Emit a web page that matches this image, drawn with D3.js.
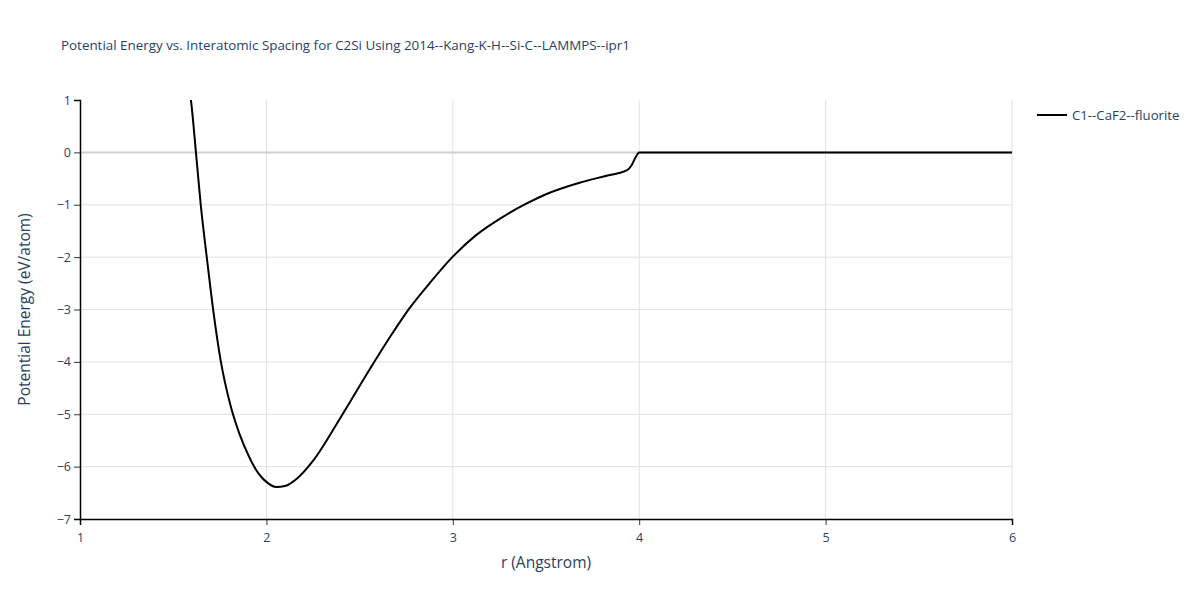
<!DOCTYPE html>
<html><head><meta charset="utf-8">
<script src="https://cdn.jsdelivr.net/npm/d3@7"></script>
<style>body{margin:0;background:#fff;} text{font-family:"Open Sans",Verdana,Arial,sans-serif;}</style>
</head><body><svg id="c" width="1200" height="600"></svg>
<script>
const titleText = "Potential Energy vs. Interatomic Spacing for C2Si Using 2014--Kang-K-H--Si-C--LAMMPS--ipr1";
const seriesName = "C1--CaF2--fluorite";
const xLabel = "r (Angstrom)";
const yLabel = "Potential Energy (eV/atom)";
const xTicks = [1, 2, 3, 4, 5, 6];
const yTicks = [1, 0, -1, -2, -3, -4, -5, -6, -7];
const rValues = [1.57, 1.595, 1.622, 1.648, 1.68, 1.715, 1.756, 1.805, 1.855, 1.903, 1.957, 2.01, 2.052, 2.10, 2.163, 2.252, 2.395, 2.552, 2.677, 2.767, 2.875, 3.0, 3.125, 3.269, 3.394, 3.50, 3.68, 3.82, 3.935, 3.96, 3.98, 4.0, 4.5, 5.0, 5.5, 6.0];
const eValues = [1.45, 1.0, 0.0, -1.01, -2.0, -3.02, -4.0, -4.8, -5.37, -5.78, -6.13, -6.32, -6.39, -6.37, -6.23, -5.88, -5.08, -4.155, -3.45, -2.98, -2.50, -1.99, -1.58, -1.23, -0.98, -0.80, -0.58, -0.45, -0.34, -0.24, -0.10, 0.0, 0.0, 0.0, 0.0, 0.0];

const svg = d3.select("#c");
const L = 80, R = 1012, T = 100, B = 519;
const x = d3.scaleLinear().domain([1, 6]).range([L, R]);
const y = d3.scaleLinear().domain([-7, 1]).range([B, T]);
const fc = "#2a3f5f";

// grid
const g = svg.append("g");
g.selectAll(".vg").data(xTicks.slice(1)).enter().append("line")
  .attr("x1", d => x(d)).attr("x2", d => x(d)).attr("y1", T).attr("y2", B)
  .attr("stroke", "#e1e1e1").attr("stroke-width", 1);
g.selectAll(".hg").data(yTicks.filter(d => d !== 0 && d !== -7 && d !== 1)).enter().append("line")
  .attr("x1", L).attr("x2", R).attr("y1", d => y(d)).attr("y2", d => y(d))
  .attr("stroke", "#e1e1e1").attr("stroke-width", 1);
g.append("line").attr("x1", L).attr("x2", R).attr("y1", y(0)).attr("y2", y(0))
  .attr("stroke", "#d0d0d0").attr("stroke-width", 2);

// clip
svg.append("clipPath").attr("id", "clip").append("rect").attr("x", L).attr("y", T).attr("width", R - L).attr("height", B - T);

const line = d3.line().x((d, i) => x(rValues[i])).y((d, i) => y(eValues[i])).curve(d3.curveMonotoneX);
svg.append("path").attr("clip-path", "url(#clip)").attr("d", line(rValues))
  .attr("fill", "none").attr("stroke", "#000").attr("stroke-width", 2);

// axes
const xMinor = d3.range(1, 6.001, 0.2);
const xa = svg.append("g").attr("transform", `translate(0,${B})`);
xa.call(d3.axisBottom(x).tickValues(xMinor).tickSize(4).tickFormat(""));
xa.call(d3.axisBottom(x).tickValues(xTicks).tickSize(6).tickFormat(d3.format("d")));
xa.selectAll("path.domain").attr("stroke", "#000").attr("stroke-width", 1.5);
xa.selectAll("line").attr("stroke", "#333");
xa.selectAll("text").attr("fill", fc).attr("font-size", 12.5).attr("dy", "1.1em");

const yMinor = d3.range(-7, 1.001, 0.2);
const ya = svg.append("g").attr("transform", `translate(${L},0)`);
ya.call(d3.axisLeft(y).tickValues(yMinor).tickSize(4).tickFormat(""));
ya.call(d3.axisLeft(y).tickValues(yTicks).tickSize(6).tickFormat(d => d < 0 ? "\u2212" + Math.abs(d) : d));
ya.selectAll("path.domain").attr("stroke", "#000").attr("stroke-width", 1.5);
ya.selectAll("line").attr("stroke", "#333");
ya.selectAll("text").attr("fill", fc).attr("font-size", 12.5);
svg.selectAll(".domain").each(function(){ this.parentNode.appendChild(this); });

// titles
svg.append("text").attr("x", 61).attr("y", 50).attr("fill", fc).attr("font-size", 13.4).text(titleText);
svg.append("text").attr("x", (L + R) / 2).attr("y", 568).attr("text-anchor", "middle").attr("fill", fc).attr("font-size", 15.5).text(xLabel);
svg.append("text").attr("transform", `translate(30,${(T + B) / 2}) rotate(-90)`).attr("text-anchor", "middle").attr("fill", fc).attr("font-size", 15.5).text(yLabel);

// legend
svg.append("line").attr("x1", 1037).attr("x2", 1067).attr("y1", 115).attr("y2", 115).attr("stroke", "#000").attr("stroke-width", 2);
svg.append("text").attr("x", 1072).attr("y", 119.5).attr("fill", fc).attr("font-size", 13.2).text(seriesName);
</script></body></html>
